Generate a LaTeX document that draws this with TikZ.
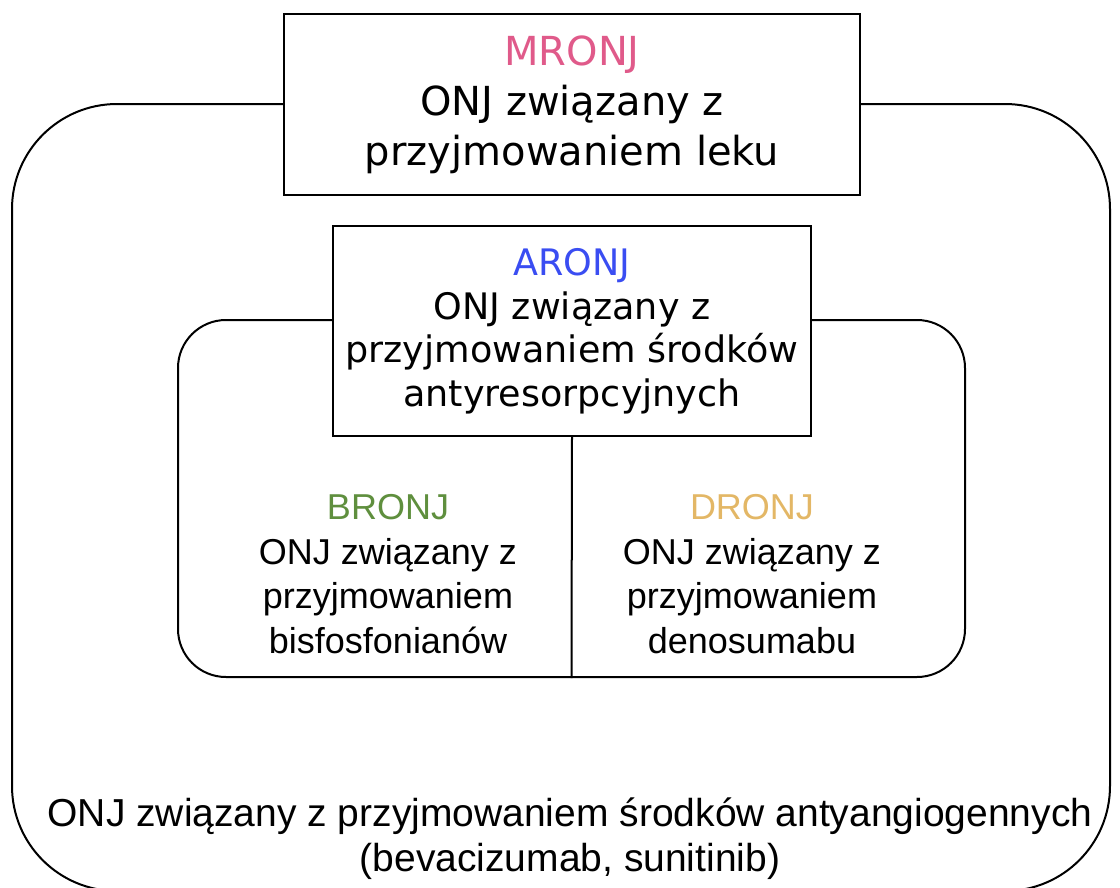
\documentclass[tikz,border=0pt]{standalone}
\usepackage{fontspec}
\setmainfont{Liberation Sans}
\newfontfamily\boxfont{DejaVu Sans}
\usepackage{tikz}
\usetikzlibrary{positioning}
\definecolor{mronjpink}{HTML}{E05A8A}
\definecolor{aronjblue}{HTML}{3A4DF2}
\definecolor{bronjgreen}{HTML}{5F8F3E}
\definecolor{dronjgold}{HTML}{E3B766}

\begin{document}
\begin{tikzpicture}[x=1pt, y=-1pt,
        group/.style={rectangle, draw, line width=2pt, rounded corners=#1},
        box/.style={rectangle, draw, line width=2pt, fill=white, align=center, font=\boxfont},
        desc/.style={align=center, font=\fontsize{36}{44.5}\selectfont}
    ]
        \useasboundingbox (0,0) rectangle (1120,887);
        \node[group=105pt, minimum width=1098pt, minimum height=787pt] (lek) at (561, 497.5) {};
        \node[group=48pt, minimum width=787pt, minimum height=357pt] (antyres) at (571.5, 498.5) {};

        \node[box, minimum width=576pt, minimum height=181pt, font=\boxfont\fontsize{40}{50}\selectfont] (mronj) at (572, 104.5) {\textcolor{mronjpink}{MRONJ}\\ONJ związany z\\przyjmowaniem leku};
        \node[box, minimum width=478pt, minimum height=210pt, font=\boxfont\fontsize{36.5}{43.5}\selectfont] (aronj) at (572, 331) {\textcolor{aronjblue}{ARONJ}\\ONJ związany z\\przyjmowaniem środków\\antyresorpcyjnych};

        \draw[line width=2pt] (aronj.south) -- (antyres.south);

        \node[desc] (bronj) at (388, 574) {\textcolor{bronjgreen}{BRONJ}\\ONJ związany z\\przyjmowaniem\\bisfosfonianów};
        \node[desc] (dronj) at (752, 574) {\textcolor{dronjgold}{DRONJ}\\ONJ związany z\\przyjmowaniem\\denosumabu};
        \node[desc, font=\fontsize{39}{45}\selectfont] (antyang) at (570, 839) {ONJ związany z przyjmowaniem środków antyangiogennych\\(bevacizumab, sunitinib)};
    \end{tikzpicture}
\end{document}
